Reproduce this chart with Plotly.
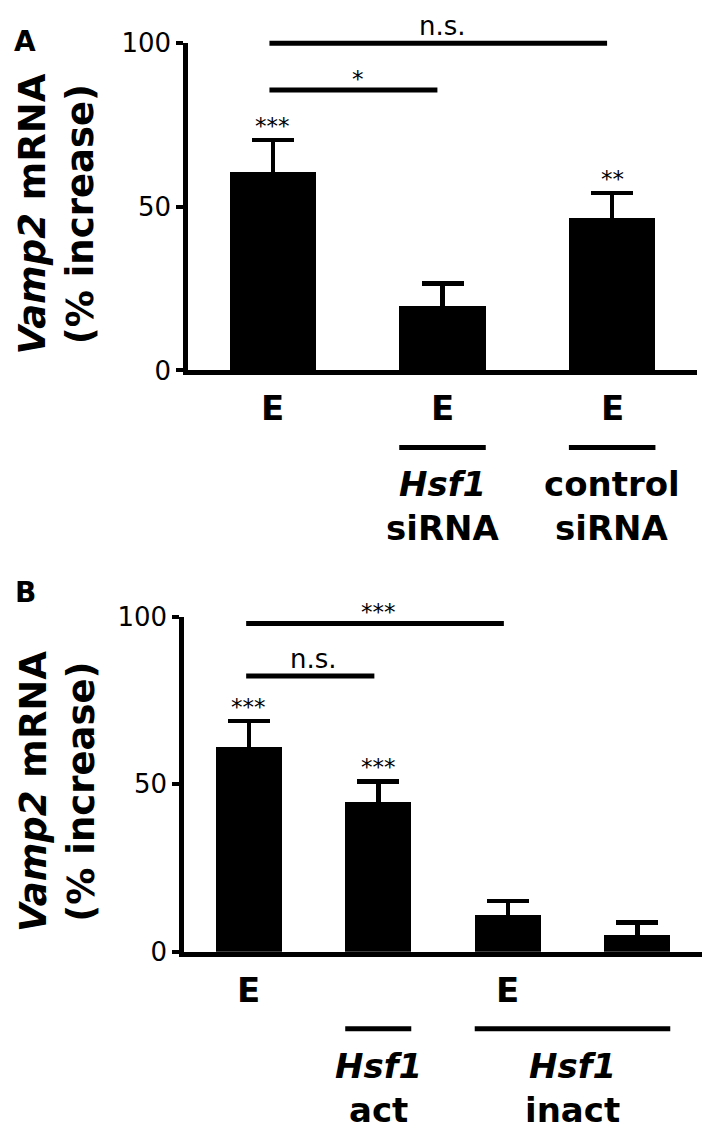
import plotly.graph_objects as go

# ---------------- data ----------------
# Panel A
cats_a = ["E", "E + Hsf1 siRNA", "E + control siRNA"]
vals_a = [60.7, 19.6, 46.4]
err_a = [9.8, 6.9, 7.8]
stars_a = ["***", "", "**"]
e_labels_a = ["E", "E", "E"]
groups_a = [(1, 1, "<i>Hsf1</i>", "siRNA"), (2, 2, "control", "siRNA")]
sig_a = [(0, 2, 100.0, "n.s."), (0, 1, 85.7, "*")]

# Panel B
cats_b = ["E", "Hsf1 act", "E + Hsf1 inact", "Hsf1 inact"]
vals_b = [61.3, 44.8, 11.0, 5.2]
err_b = [7.6, 6.1, 4.1, 3.5]
stars_b = ["***", "***", "", ""]
e_labels_b = ["E", "", "E", ""]
groups_b = [(1, 1, "<i>Hsf1</i>", "act"), (2, 3, "<i>Hsf1</i>", "inact")]
sig_b = [(0, 2, 98.0, "***"), (0, 1, 82.3, "n.s.")]

y_ticks = [0, 50, 100]
YMAX = 100

# ---------------- layout helpers ----------------
W, H = 708, 1144
FONT = "DejaVu Sans"
BAR_W = 0.51


def fx(p):
    return p / W


def fy(p):
    return 1 - p / H


fig = go.Figure()

panels = [
    dict(cats=cats_a, vals=vals_a, err=err_a, stars=stars_a, elab=e_labels_a,
         groups=groups_a, sig=sig_a, xa="x", ya="y", xd=[188, 697], yd=[29, 365],
         letter="A", lety=27),
    dict(cats=cats_b, vals=vals_b, err=err_b, stars=stars_b, elab=e_labels_b,
         groups=groups_b, sig=sig_b, xa="x2", ya="y2", xd=[184, 702], yd=[618, 962],
         letter="B", lety=593),
]

shapes = []
annotations = []

for k, p in enumerate(panels):
    n = len(p["cats"])
    fig.add_trace(go.Bar(
        x=p["cats"], y=p["vals"], xaxis=p["xa"], yaxis=p["ya"],
        width=BAR_W,
        marker=dict(color="black", line=dict(width=0)),
        # lower whisker end kept inside the black bar so only the top cap shows
        error_y=dict(type="data", array=p["err"], arrayminus=[3] * n,
                     symmetric=False, color="black", thickness=4.5, width=21),
        showlegend=False, hoverinfo="skip",
    ))
    sfx = "" if k == 0 else "2"
    layout_x = dict(
        domain=[fx(p["xd"][0]), fx(p["xd"][1])],
        range=[-0.5, n - 0.5], type="category",
        showline=True, linewidth=4.5, linecolor="black",
        showticklabels=False, ticks="", showgrid=False, zeroline=False,
        anchor="y" + sfx, fixedrange=True,
    )
    layout_y = dict(
        domain=[fy(p["yd"][1]), fy(p["yd"][0])],
        range=[0, YMAX], tickvals=y_ticks,
        ticks="outside", ticklen=7, tickwidth=4, tickcolor="black",
        showline=True, linewidth=4.5, linecolor="black",
        tickfont=dict(family=FONT, size=26, color="black"),
        showgrid=False, zeroline=False, anchor="x" + sfx, fixedrange=True,
    )
    fig.update_layout(**{"xaxis" + sfx: layout_x, "yaxis" + sfx: layout_y})

    xref = p["xa"]
    ydom = p["ya"] + " domain"

    # significance brackets
    for (i, j, v, txt) in p["sig"]:
        shapes.append(dict(type="line", xref=xref, yref=ydom,
                           x0=i - 0.02, x1=j - 0.03, y0=v / YMAX, y1=v / YMAX,
                           line=dict(color="black", width=5)))
        is_star = txt.startswith("*")
        annotations.append(dict(xref=xref, yref=ydom, x=(i + j) / 2, y=v / YMAX,
                                text=txt, showarrow=False, yanchor="bottom",
                                yshift=-4 if is_star else 0,
                                font=dict(family=FONT, size=23 if is_star else 26,
                                          color="black")))

    # stars above bars
    for i, s in enumerate(p["stars"]):
        if s:
            annotations.append(dict(xref=xref, yref=ydom, x=i,
                                    y=(p["vals"][i] + p["err"][i]) / YMAX,
                                    text=s, showarrow=False, yanchor="bottom",
                                    yshift=-1,
                                    font=dict(family=FONT, size=23, color="black")))

    # E labels under the axis
    for i, e in enumerate(p["elab"]):
        if e:
            annotations.append(dict(xref=xref, yref=ydom, x=i, y=0, yshift=-38,
                                    text="<b>%s</b>" % e, showarrow=False,
                                    yanchor="middle",
                                    font=dict(family=FONT, size=34, color="black")))

    # group underlines and labels
    for (i, j, l1, l2) in p["groups"]:
        shapes.append(dict(type="line", xref=xref, yref=ydom, ysizemode="pixel",
                           yanchor=0, x0=i - BAR_W / 2, x1=j + BAR_W / 2,
                           y0=-77, y1=-77, line=dict(color="black", width=5)))
        xc = (i + j) / 2
        annotations.append(dict(xref=xref, yref=ydom, x=xc, y=0, yshift=-114,
                                text="<b>%s</b>" % l1, showarrow=False,
                                yanchor="middle",
                                font=dict(family=FONT, size=34, color="black")))
        annotations.append(dict(xref=xref, yref=ydom, x=xc, y=0, yshift=-158,
                                text="<b>%s</b>" % l2, showarrow=False,
                                yanchor="middle",
                                font=dict(family=FONT, size=34, color="black")))

    # y axis title
    yc = (p["yd"][0] + p["yd"][1]) / 2 + 8
    annotations.append(dict(xref="paper", yref="paper", x=fx(57), y=fy(yc),
                            text="<b><i>Vamp2</i> mRNA</b><br><b>(% increase)</b>",
                            textangle=-90, showarrow=False,
                            xanchor="center", yanchor="middle",
                            font=dict(family=FONT, size=37, color="black")))
    # panel letter
    annotations.append(dict(xref="paper", yref="paper", x=fx(25), y=fy(p["lety"]),
                            text="<b>%s</b>" % p["letter"], showarrow=False,
                            xanchor="center", yanchor="middle",
                            font=dict(family=FONT, size=28, color="black")))

fig.update_layout(
    width=W, height=H,
    margin=dict(l=0, r=0, t=0, b=0),
    paper_bgcolor="white", plot_bgcolor="white",
    shapes=shapes, annotations=annotations,
    bargap=0, showlegend=False,
)

fig.write_html(
    "out.html",
    config={"displayModeBar": False},
    post_script="document.body.style.margin='0';document.body.style.overflow='hidden';",
)
